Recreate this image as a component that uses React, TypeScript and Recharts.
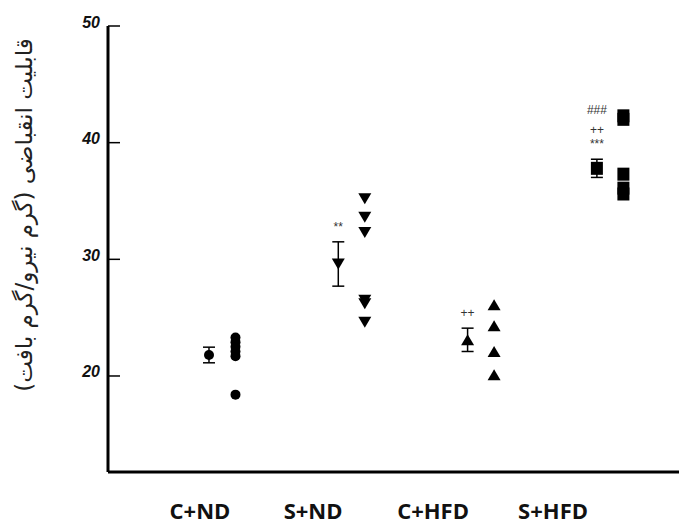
import React from 'react';
import { ScatterChart, Scatter, XAxis, YAxis, ErrorBar, Label } from 'recharts';

// ---- data ----
const groups = ['C+ND', 'S+ND', 'C+HFD', 'S+HFD'];
const groupLabelX = [0.93, 1.805, 2.733, 3.661];
const meanX = [1, 2, 3, 4];
const pointOffset = 0.205;

const cndPoints = [23.3, 22.9, 22.5, 22.1, 21.7, 18.4];
const sndPoints = [35.2, 33.6, 32.3, 26.5, 26.2, 24.6];
const chfdPoints = [26.1, 24.3, 22.1, 20.1];
const shfdPoints = [42.3, 42.0, 37.3, 36.1, 35.6];

const means = [21.8, 29.6, 23.1, 37.8];
const sems = [0.67, 1.9, 1.0, 0.78];

const annotationX = [2, 3, 4, 4, 4];
const annotationY = [32.8, 25.4, 42.8, 41.05, 39.85];
const annotationText = ['**', '++', '###', '++', '***'];

const yTicks = [20, 30, 40, 50];
const yLabel = 'قابلیت انقباضی (گرم نیرو/گرم بافت)';

// ---- helpers ----
const pts = (x: number, vals: number[]) => vals.map((v) => ({ x, y: v }));
const meanPt = (i: number) => [{ x: meanX[i], y: means[i], err: sems[i] }];
const annData = annotationX.map((x, i) => ({ x, y: annotationY[i], label: annotationText[i] }));

type Kind = 'circle' | 'triDown' | 'triUp' | 'square';
const makeShape = (kind: Kind) => (props: any) => {
  const { cx, cy } = props;
  if (cx == null || cy == null) return <g />;
  switch (kind) {
    case 'circle':
      return <circle cx={cx} cy={cy} r={5} fill="#000" />;
    case 'triDown':
      return <polygon points={`${cx - 6.5},${cy - 5.5} ${cx + 6.5},${cy - 5.5} ${cx},${cy + 5.5}`} fill="#000" />;
    case 'triUp':
      return <polygon points={`${cx - 6.5},${cy + 5.5} ${cx + 6.5},${cy + 5.5} ${cx},${cy - 5.5}`} fill="#000" />;
    default:
      return <rect x={cx - 6} y={cy - 6.5} width={12} height={13} fill="#000" />;
  }
};
const kinds: Kind[] = ['circle', 'triDown', 'triUp', 'square'];
const groupPoints = [cndPoints, sndPoints, chfdPoints, shfdPoints];

const AnnShape = (props: any) => {
  const { cx, cy, payload } = props;
  if (cx == null) return <g />;
  return (
    <text x={cx} y={cy} textAnchor="middle" dominantBaseline="central" fontSize={12} fill="#333" fontFamily="Liberation Sans, Arial, sans-serif">
      {payload.label}
    </text>
  );
};

const YTick = (props: any) => {
  const { x, y, payload } = props;
  return (
    <g>
      <line x1={x} x2={x + 12} y1={y} y2={y} stroke="#000" strokeWidth={1.5} />
      <text x={x - 8} y={y - 4} textAnchor="end" dominantBaseline="central" style={{ fontSize: 16, fontWeight: 'bold', fontStyle: 'italic', fontFamily: 'Liberation Sans, Arial, sans-serif' }} fill="#111">
        {payload.value}
      </text>
    </g>
  );
};

const XTick = (props: any) => {
  const { x, y, index } = props;
  return (
    <text x={x} y={y + 47} textAnchor="middle" style={{ fontSize: 22, fontWeight: 'bold', fontFamily: 'Open Sans, sans-serif' }} fill="#111">
      {groups[index]}
    </text>
  );
};

const YLabelContent = () => {
  const cx = 24;
  const cy = 215;
  return (
    <text x={cx} y={cy} transform={`rotate(-90 ${cx} ${cy})`} textAnchor="middle" dominantBaseline="central" style={{ fontSize: 23, fontFamily: 'DejaVu Sans, sans-serif' }} fill="#222" direction="rtl">
      {yLabel}
    </text>
  );
};

export default function App() {
  return (
    <div style={{ position: 'absolute', left: 0, top: 0, width: 679, height: 525, background: '#fff' }}>
      <ScatterChart width={679} height={525} margin={{ top: 26, right: 0, bottom: 0, left: 0 }}>
        <XAxis
          type="number"
          dataKey="x"
          domain={[0.219, 4.635]}
          ticks={groupLabelX}
          interval={0}
          allowDataOverflow
          height={53}
          stroke="#000"
          strokeWidth={3}
          axisLine={{ stroke: '#000', strokeWidth: 3 }}
          tickLine={false}
          tickSize={0}
          tickMargin={0}
          tick={<XTick />}
        />
        <YAxis
          type="number"
          dataKey="y"
          domain={[11.77, 50]}
          ticks={yTicks}
          interval={0}
          allowDataOverflow
          width={108}
          stroke="#000"
          strokeWidth={3}
          axisLine={{ stroke: '#000', strokeWidth: 3 }}
          tickLine={false}
          tickSize={0}
          tickMargin={0}
          tick={<YTick />}
        >
          <Label content={<YLabelContent />} />
        </YAxis>
        {groupPoints.map((vals, i) => (
          <Scatter key={`p${i}`} data={pts(meanX[i] + pointOffset, vals)} shape={makeShape(kinds[i])} isAnimationActive={false} />
        ))}
        {kinds.map((k, i) => (
          <Scatter key={`m${i}`} data={meanPt(i)} shape={makeShape(k)} isAnimationActive={false}>
            <ErrorBar dataKey="err" direction="y" width={6} stroke="#000" strokeWidth={1.5} />
          </Scatter>
        ))}
        <Scatter data={annData} shape={<AnnShape />} isAnimationActive={false} />
      </ScatterChart>
    </div>
  );
}
